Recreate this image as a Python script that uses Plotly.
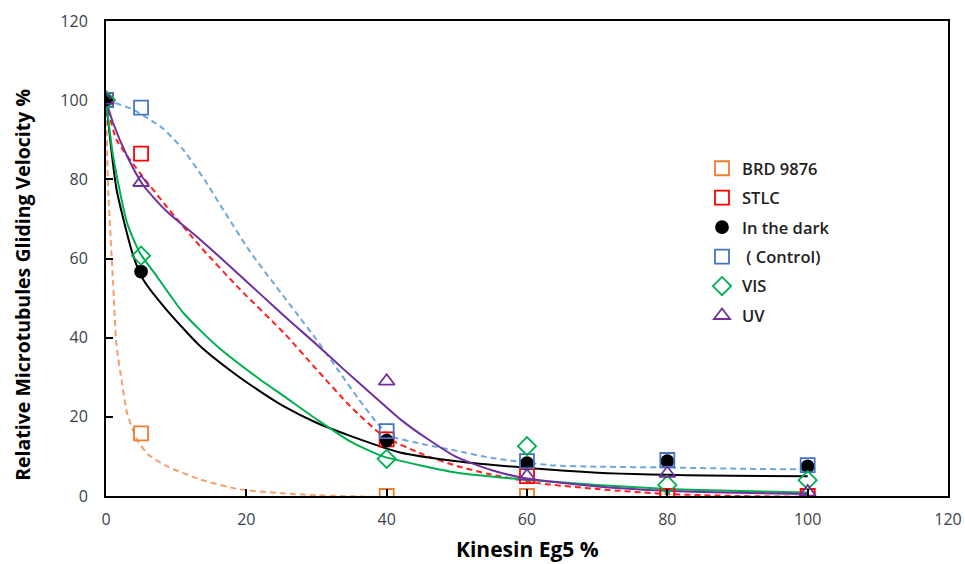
import plotly.graph_objects as go

# Measured points (x = Kinesin Eg5 %, y = relative velocity %)
x_pts = [0, 5, 40, 60, 80, 100]
brd_pts = [100, 15.8, 0, 0, 0, 0]
stlc_pts = [100, 86.5, 14.3, 5.0, 0, 0]
dark_pts = [100, 56.7, 14.0, 8.3, 8.8, 7.5]
ctrl_pts = [100, 98.1, 16.4, 8.8, 9.1, 7.8]
vis_pts = [100, 60.7, 9.4, 12.6, 2.8, 4.0]
uv_pts = [100, 79.2, 29.0, 5.0, 5.7, 1.0]

# Fitted curves
brd_fx = [0, 0.3, 1, 1.5, 2.2, 3, 4.4, 6, 8.6, 13.4, 19, 25, 30, 40, 60, 80, 100]
brd_fy = [100, 78, 54, 38, 29.5, 21, 14.3, 10.5, 7.6, 4.2, 1.7, 0.7, 0.2, -0.3, -0.7, -0.9, -1.0]

stlc_fx = [0, 1.5, 4.8, 8.6, 13.4, 19.1, 25.3, 30, 34.8, 39.5, 45.2, 50, 54.7, 61.8, 70.4, 80, 90, 100]
stlc_fy = [100, 90, 81.7, 73.2, 63.1, 52.2, 41.3, 32, 22.7, 15.2, 10.5, 7.6, 5.5, 3.2, 1.7, 0.5, 0, -0.2]

dark_fx = [0, 1.5, 3.9, 5.3, 8.6, 13.4, 18.1, 21.9, 25.3, 30, 34.8, 41.9, 50, 59.4, 70, 89, 100]
dark_fy = [100, 77.5, 60.6, 54.7, 47.1, 37.9, 31.2, 26.5, 22.7, 18.5, 15.2, 11, 8.8, 7.2, 5.9, 5.1, 5.0]

ctrl_fx = [0, 1, 4, 8, 11, 14, 17, 20.5, 24, 27, 30, 33, 36, 38.6, 40.5, 45.2, 50, 54.7, 63.2, 70.4, 80, 90, 100]
ctrl_fy = [100, 99.5, 97.5, 93, 87.5, 80, 71.5, 61.8, 53.5, 46.5, 39.5, 32, 24.5, 18.5, 15.2, 13.1, 11.4, 9.7, 7.8, 7.4, 7.2, 6.9, 6.7]

vis_fx = [0, 1, 3, 4.8, 7.2, 11, 15.8, 21.9, 25.3, 30, 34.8, 39.5, 45.2, 50, 59.4, 70, 80, 89, 100]
vis_fy = [100, 86, 69, 61.5, 55.6, 46.3, 37.9, 29.5, 25.3, 19.4, 13.8, 10, 7.6, 5.9, 4.2, 2.8, 1.8, 1.3, 0.9]

uv_fx = [0, 1, 3, 5.3, 8.6, 13.4, 18, 22, 26, 30, 34, 38, 42, 46, 50, 55, 60, 70, 80, 90, 100]
uv_fy = [100, 94.3, 85.9, 78.5, 72, 64.8, 57.5, 51, 44.5, 38.3, 31.8, 25.5, 19.3, 14.2, 9.8, 6.5, 4.4, 2.4, 1.3, 0.8, 0.5]

x_ticks = [0, 20, 40, 60, 80, 100, 120]
y_ticks = [0, 20, 40, 60, 80, 100, 120]

fig = go.Figure()

lines = [
    (brd_fx, brd_fy, "#F4A070", "dash"),
    (stlc_fx, stlc_fy, "#FF2020", "dash"),
    (dark_fx, dark_fy, "#000000", "solid"),
    (ctrl_fx, ctrl_fy, "#6FA8DC", "dash"),
    (vis_fx, vis_fy, "#00B050", "solid"),
    (uv_fx, uv_fy, "#7030A0", "solid"),
]
for fx, fy, col, dash in lines:
    fig.add_trace(go.Scatter(
        x=fx, y=fy, mode="lines", showlegend=False, hoverinfo="skip",
        line=dict(color=col, width=2, dash="6px,4px" if dash == "dash" else "solid",
                  shape="spline", smoothing=0.6)))

markers = [
    ("BRD 9876", brd_pts, "square-open", "#ED7D31", 14),
    ("STLC", stlc_pts, "square-open", "#FF0000", 14),
    ("In the dark", dark_pts, "circle", "#000000", 12),
    (" ( Control)", ctrl_pts, "square-open", "#4472C4", 14),
    ("VIS", vis_pts, "diamond-open", "#00B050", 14),
    ("UV", uv_pts, "triangle-up-open", "#7030A0", 14),
]
for i, (name, ys, sym, col, sz) in enumerate(markers):
    fig.add_trace(go.Scatter(
        x=x_pts, y=ys, mode="markers", name=name, legendgroup=f"g{i}",
        marker=dict(symbol=sym, color=col, size=sz, line=dict(color=col, width=1.8))))

axis_common = dict(
    showgrid=False, zeroline=False, showline=True, linecolor="#000000", linewidth=2,
    mirror=True, ticks="inside", ticklen=7, tickwidth=1.5, tickcolor="#000000",
    automargin=False,
    tickfont=dict(family="Open Sans", size=16, color="#3A3F4A"),
)

fig.update_xaxes(range=[0, 120], tickvals=x_ticks, ticklabelstandoff=8, **axis_common)
fig.update_yaxes(range=[0, 120], tickvals=y_ticks, ticklabelstandoff=13, **axis_common)

fig.add_annotation(text="<b>Kinesin Eg5 %</b>", xref="paper", yref="paper",
                   x=0.5, y=(496 - 549) / 475, yanchor="middle", xanchor="center", showarrow=False,
                   font=dict(family="Open Sans", size=21, color="#000000"))
fig.add_annotation(text="<b>Relative Microtubules Gliding Velocity %</b>", xref="paper", yref="paper",
                   x=-0.1, y=(496 - 285) / 475, yanchor="middle", xanchor="center", showarrow=False,
                   textangle=-90, font=dict(family="Open Sans", size=19.5, color="#000000"))

fig.update_layout(
    width=965, height=564,
    margin=dict(l=106, r=17, t=21, b=68, autoexpand=False),
    plot_bgcolor="white", paper_bgcolor="white",
    legend=dict(x=(702 - 106) / 842, y=(496 - 151) / 475, xanchor="left", yanchor="top",
                bgcolor="rgba(0,0,0,0)", tracegroupgap=5, itemwidth=30,
                font=dict(family="Open Sans", size=16.5, color="#222222", weight=600)),
)

fig.write_html("out.html")
